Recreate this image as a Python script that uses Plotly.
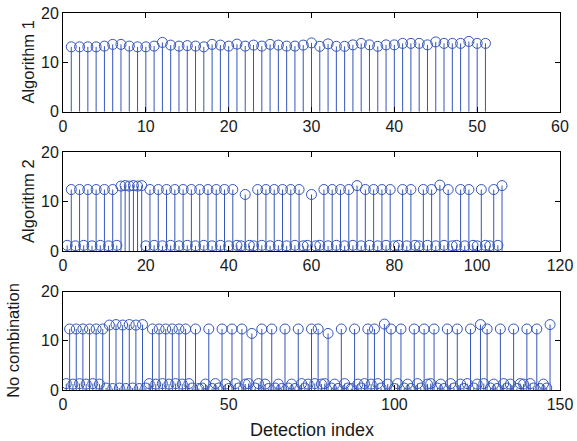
import plotly.graph_objects as go
from plotly.subplots import make_subplots

# ---- data ----
alg1_values = [13.2, 13.2, 13.2, 13.2, 13.35, 13.7, 13.7, 13.35, 13.2, 13.2,
               13.35, 14.1, 13.55, 13.35, 13.45, 13.35, 13.2, 13.7, 13.55, 13.35,
               13.75, 13.35, 13.55, 13.35, 13.7, 13.55, 13.35, 13.35, 13.55, 14.0,
               13.3, 13.8, 13.3, 13.3, 13.6, 13.9, 13.6, 13.3, 13.6, 13.6,
               13.9, 13.9, 13.9, 13.6, 14.2, 13.9, 13.9, 13.9, 14.3, 13.9, 13.9]

alg2_values = [1.2, 12.5, 1.1, 12.5, 1.2, 12.5, 1.1, 12.5, 1.2, 12.5,
               1.1, 12.5, 1.2, 13.2, 13.3, 13.2, 13.3, 13.2, 13.3, 1.1,
               12.5, 1.2, 12.5, 1.1, 12.5, 1.2, 12.5, 1.1, 12.5, 1.2,
               12.5, 1.1, 12.5, 1.2, 12.5, 1.1, 12.5, 1.2, 12.5, 1.1,
               12.5, 1.2, 1.1, 11.5, 1.2, 1.1, 12.5, 1.2, 12.5, 1.1,
               12.5, 1.2, 12.5, 1.1, 12.5, 1.2, 12.5, 1.1, 1.2, 11.5,
               1.1, 1.2, 12.5, 1.1, 12.5, 1.2, 12.5, 1.1, 12.5, 1.2,
               13.3, 1.1, 12.5, 1.2, 12.5, 1.1, 12.5, 1.2, 12.5, 1.1,
               1.2, 12.5, 1.1, 12.5, 1.2, 1.1, 12.5, 1.2, 12.5, 1.1,
               13.4, 1.2, 12.5, 1.1, 1.2, 12.5, 1.1, 12.5, 1.2, 1.1,
               12.5, 1.2, 1.1, 12.5, 1.2, 13.3]

nocomb_values = [1.3, 12.4, 1.2, 12.4, 1.3, 12.4, 1.2, 12.4, 1.3, 12.4,
                 1.2, 12.4, 0.4, 13.2, 0.3, 13.3, 0.4, 13.2, 0.3, 13.3,
                 0.4, 13.2, 0.3, 13.3, 0.4, 1.3, 12.4, 1.2, 12.4, 1.3,
                 12.4, 1.2, 12.4, 1.3, 12.4, 1.2, 12.4, 1.3, 0.4, 12.4,
                 0.3, 0.4, 1.2, 12.4, 0.3, 1.3, 0.4, 12.4, 1.2, 0.3,
                 12.4, 1.3, 0.4, 12.4, 1.2, 1.3, 11.5, 0.4, 1.3, 12.4,
                 1.2, 0.3, 12.4, 0.4, 1.2, 0.3, 12.4, 0.4, 1.2, 0.3,
                 12.4, 1.3, 0.4, 1.2, 12.4, 1.3, 12.4, 1.2, 1.3, 11.5,
                 0.4, 1.2, 0.3, 12.4, 1.3, 0.4, 0.3, 12.4, 1.2, 0.4,
                 1.3, 12.4, 1.2, 12.4, 1.3, 0.4, 13.4, 1.2, 12.4, 0.3,
                 1.3, 12.4, 0.4, 1.2, 0.3, 12.4, 1.3, 0.4, 12.4, 1.2,
                 1.3, 12.4, 0.4, 1.2, 0.3, 12.4, 1.3, 0.4, 12.4, 1.2,
                 0.3, 1.3, 12.4, 0.4, 1.2, 13.3, 1.3, 12.4, 0.4, 1.2,
                 0.3, 12.4, 1.3, 0.4, 1.2, 12.4, 0.3, 1.3, 1.2, 12.4,
                 1.3, 0.4, 12.4, 0.3, 1.2, 0.4, 13.3]

panel_titles = ["Algorithm 1", "Algorithm 2", "No combination"]
x_ranges = [[0, 60], [0, 120], [0, 150]]
x_dticks = [10, 20, 50]
x_title = "Detection index"

COLOR = "#3556B8"
FONT = "Liberation Sans, Arial, sans-serif"
TXT = "#1a1a1a"

fig = make_subplots(rows=3, cols=1, vertical_spacing=0.1)

for r, vals in enumerate([alg1_values, alg2_values, nocomb_values], start=1):
    idx = list(range(1, len(vals) + 1))
    sx, sy = [], []
    for i, v in zip(idx, vals):
        sx += [i, i, None]
        sy += [0, v, None]
    fig.add_trace(go.Scatter(x=sx, y=sy, mode="lines",
                             line=dict(color=COLOR, width=1),
                             hoverinfo="skip", showlegend=False), row=r, col=1)
    fig.add_trace(go.Scatter(x=idx, y=vals, mode="markers",
                             marker=dict(symbol="circle-open", size=10,
                                         color=COLOR, line=dict(width=1, color=COLOR)),
                             showlegend=False), row=r, col=1)

domains = [[0.738, 0.999], [0.368, 0.630], [0.0, 0.261]]
axis_common = dict(showline=True, mirror="ticks", linecolor="black", linewidth=1,
                   ticks="inside", ticklen=5, tickcolor="black", showgrid=False,
                   zeroline=False, automargin=False, ticklabeloverflow="allow",
                   tickfont=dict(family=FONT, size=16, color=TXT))
title_x = [-0.0704, -0.0704, -0.1006]
for r in range(1, 4):
    xa = "xaxis" if r == 1 else f"xaxis{r}"
    ya = "yaxis" if r == 1 else f"yaxis{r}"
    fig.layout[xa].update(range=x_ranges[r - 1], dtick=x_dticks[r - 1], tick0=0,
                          **axis_common)
    fig.layout[ya].update(range=[0, 20], dtick=10, tick0=0, domain=domains[r - 1],
                          **axis_common)
    d = domains[r - 1]
    fig.add_annotation(text=panel_titles[r - 1], xref="paper", yref="paper",
                       x=title_x[r - 1], y=(d[0] + d[1]) / 2, textangle=-90,
                       xanchor="center", yanchor="middle", showarrow=False,
                       font=dict(family=FONT, size=16.5, color=TXT))

fig.add_annotation(text=x_title, xref="paper", yref="paper", x=0.5, y=-0.107,
                   xanchor="center", yanchor="middle", showarrow=False,
                   font=dict(family=FONT, size=18, color=TXT))

fig.update_layout(width=577, height=441, plot_bgcolor="white", paper_bgcolor="white",
                  margin=dict(l=63, r=17, t=13, b=51), showlegend=False)

# remove the default 8px page margin so the figure fills the window exactly
fig.write_html("out.html", config={"displayModeBar": False},
               post_script="document.body.style.margin='0';document.body.style.overflow='hidden';")
